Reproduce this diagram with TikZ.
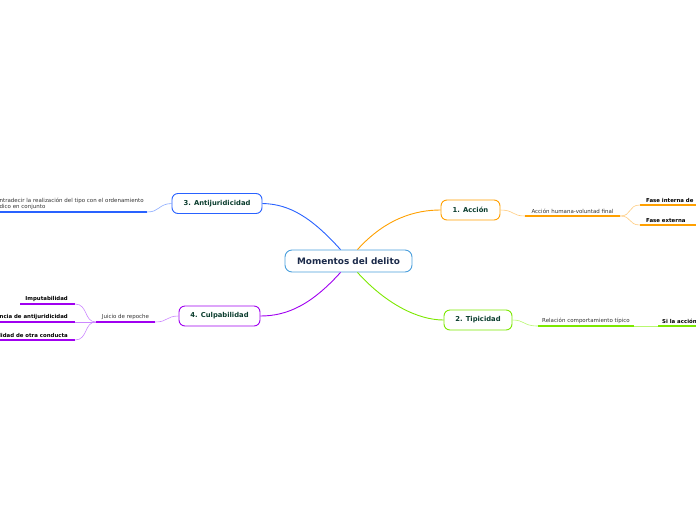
\documentclass[tikz,border=0pt]{standalone}
\usepackage{fontspec}
\setmainfont{DejaVu Sans}
\usetikzlibrary{calc}
\definecolor{cblue}{HTML}{2962FF}
\definecolor{corange}{HTML}{FFA000}
\definecolor{cgreen}{HTML}{7CE800}
\definecolor{cpurple}{HTML}{A000F0}
\definecolor{lorange}{HTML}{FFCC80}
\definecolor{lgreen}{HTML}{B8F870}
\definecolor{lblue}{HTML}{8AAAFF}
\definecolor{lpurple}{HTML}{CC88FF}
\definecolor{ctext}{HTML}{0B3D2E}
\definecolor{cnavy}{HTML}{1B2A4A}
\definecolor{cborder}{HTML}{4A9FDC}
\tikzset{
  centralbox/.style={draw=cborder, line width=0.9pt, rounded corners=7pt, fill=white,
    minimum width=127pt, minimum height=22pt, inner sep=0pt,
    font=\fontsize{8.9}{9}\selectfont\bfseries, text=cnavy},
  mainbox/.style={draw=#1, line width=0.9pt, rounded corners=6pt, fill=white,
    minimum height=20pt, inner sep=0pt, font=\fontsize{6.8}{7}\selectfont\bfseries, text=ctext},
  subtext/.style={inner xsep=0pt, inner ysep=2pt, font=\fontsize{5.5}{6}\selectfont, text=black!80},
  leaftext/.style={inner xsep=0pt, inner ysep=2pt, font=\fontsize{5.4}{6}\selectfont\bfseries, text=black},
  uline/.style={draw=#1, line width=1.6pt},
  conn/.style={draw=#1, line width=0.9pt},
  thin/.style={draw=#1, line width=0.6pt},
}
\begin{document}
\begin{tikzpicture}[x=1pt,y=-1pt]
\useasboundingbox (0,0) rectangle (696,520);
% central
\node[centralbox] (c) at (348.5,261) {Momentos del delito};
% main branches
\node[mainbox=corange, minimum width=59pt] (a) at (470.5,210) {1. Acción};
\node[mainbox=cgreen, minimum width=68pt] (t) at (478,320) {2. Tipicidad};
\node[mainbox=cblue, minimum width=90pt] (j) at (217,203.5) {3. Antijuridicidad};
\node[mainbox=cpurple, minimum width=81pt] (p) at (219.5,316) {4. Culpabilidad};
% central connectors
\draw[conn=cblue] ($(c.north)+(-8,0)$) .. controls (312,218) and (290,204) .. (j.east);
\draw[conn=corange] ($(c.north)+(9,0)$) .. controls (386,218) and (416,210) .. (a.west);
\draw[conn=cgreen] ($(c.south)+(9,0)$) .. controls (386,304) and (418,320) .. (t.west);
\draw[conn=cpurple] ($(c.south)+(-8,0)$) .. controls (312,304) and (288,316) .. (p.east);
% 1. Accion sub
\node[subtext, minimum width=95pt, anchor=south] (a1) at (572.5,216) {Acción humana-voluntad final};
\draw[uline=corange] (a1.south west) -- (a1.south east);
\draw[thin=lorange] (a.east) .. controls (514,210) and (512,216) .. (a1.south west);
\node[leaftext, anchor=south west] (a2) at (646,205) {Fase interna de};
\node[leaftext, anchor=south west] (a3) at (646,225) {Fase externa};
\coordinate (a2s) at (640,205);
\coordinate (a2e) at (700,205);
\coordinate (a3s) at (640,225);
\coordinate (a3e) at (700,225);
\draw[uline=corange] (a2s) -- (a2e);
\draw[uline=corange] (a3s) -- (a3e);
\draw[thin=lorange] (a1.south east) .. controls (632,216) and (628,205) .. (a2s);
\draw[thin=lorange] (a1.south east) .. controls (632,216) and (628,225) .. (a3s);
% 2. Tipicidad sub
\node[subtext, minimum width=96pt, anchor=south] (t1) at (586,326) {Relación comportamiento típico};
\draw[uline=cgreen] (t1.south west) -- (t1.south east);
\draw[thin=lgreen] (t.east) .. controls (525,320) and (523,326) .. (t1.south west);
\node[leaftext, anchor=south west] (t2) at (662,326) {Si la acción};
\coordinate (t2s) at (658,326);
\coordinate (t2e) at (700,326);
\draw[uline=cgreen] (t2s) -- (t2e);
\draw[thin=lgreen] (t1.south east) -- (t2s);
% 3. Antijuridicidad sub
\node[subtext, anchor=south west, align=left, font=\fontsize{5.5}{6.3}\selectfont] (j1) at (-0.5,212) {ntradecir la realización del tipo con el ordenamiento\\dico en conjunto};
\coordinate (j1s) at (-5,212);
\coordinate (j1e) at (147,212);
\draw[uline=cblue] (j1s) -- (j1e);
\draw[thin=lblue] (j1e) .. controls (160,212) and (158,204) .. (j.west);
% 4. Culpabilidad sub
\node[subtext, minimum width=59pt, anchor=south] (p1) at (125.5,322) {Juicio de repoche};
\draw[uline=cpurple] (p1.south west) -- (p1.south east);
\draw[thin=lpurple] (p1.south east) .. controls (168,322) and (166,316) .. (p.west);
\node[leaftext, anchor=south east] (p2) at (68,304) {Imputabilidad};
\node[leaftext, anchor=south east] (p3) at (68,322) {ncia de antijuridicidad};
\node[leaftext, anchor=south east] (p4) at (68,340) {lidad de otra conducta};
\coordinate (p2s) at (20,304);
\coordinate (p2e) at (75,304);
\coordinate (p3s) at (-5,322);
\coordinate (p3e) at (75,322);
\coordinate (p4s) at (-5,340);
\coordinate (p4e) at (75,340);
\draw[uline=cpurple] (p2s) -- (p2e);
\draw[uline=cpurple] (p3s) -- (p3e);
\draw[uline=cpurple] (p4s) -- (p4e);
\draw[thin=lpurple] (p1.south west) .. controls (84,322) and (88,304) .. (p2e);
\draw[thin=lpurple] (p1.south west) -- (p3e);
\draw[thin=lpurple] (p1.south west) .. controls (84,322) and (88,340) .. (p4e);
\end{tikzpicture}
\end{document}
